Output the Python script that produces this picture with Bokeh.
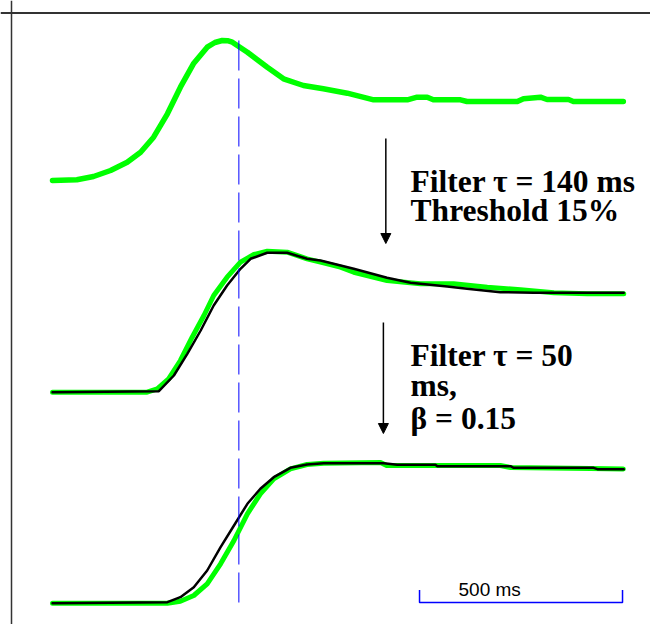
from bokeh.plotting import figure
from bokeh.models import Range1d, Span, Arrow, NormalHead
from bokeh.core.properties import value
from bokeh.embed import file_html
from bokeh.resources import INLINE

# ---------------- data (time in ms, amplitude in arbitrary units) ----------------
# Top trace: raw signal (green)
raw_t = [0, 60, 101, 143, 184, 217, 249, 283, 315, 347, 381, 400, 418, 431, 443, 480, 529, 569,
         618, 667, 726, 791, 874, 898, 923, 938, 1005, 1021, 1145, 1160, 1202, 1218,
         1271, 1283, 1406]
raw_v = [0, 0.7, 4, 10, 18.3, 28.3, 43.3, 66.7, 93.3, 116.7, 133.3, 138, 140, 139.8, 138.3, 128.3,
         113.3, 101.7, 95, 91.7, 87.3, 80.7, 80.7, 83.3, 83.3, 80.7, 80.7, 79, 79, 81.7,
         83.3, 81, 81, 79, 79]

# Middle: filter tau = 140 ms, threshold 15%
mid_green_t = [0, 233, 258, 286, 315, 344, 373, 397, 430, 463, 496, 529, 578, 627, 660,
               709, 742, 824, 906, 988, 1071, 1153, 1235, 1317, 1407]
mid_green_v = [0, 0, 3.4, 13.4, 31.7, 55, 76.7, 96.7, 115, 130, 137.7, 141, 140, 133.4,
               130, 125, 120, 111.7, 108.4, 108.4, 105, 102.4, 99.4, 98.4, 98.4]
mid_black_t = [0, 262, 299, 332, 365, 397, 430, 463, 488, 529, 578, 627, 660, 742, 824,
               882, 972, 1021, 1103, 1185, 1317, 1407]
mid_black_v = [0, 1, 16.7, 38.4, 61.7, 86.7, 106.7, 123.4, 133.4, 139.4, 139.4, 133.4,
               131.7, 123.4, 114.4, 109.4, 105.7, 103.4, 100, 99.4, 99.4, 99.4]

# Bottom: filter tau = 50 ms, beta = 0.15
bot_green_t = [0, 283, 315, 348, 381, 414, 447, 480, 512, 545, 586, 627, 668, 808, 823,
               1103, 1128, 1325, 1406]
bot_green_v = [0, 0, 2, 7.7, 19.4, 39.4, 62.7, 89.4, 109.4, 124.4, 134.4, 138.7, 140,
               140.7, 137.7, 137.7, 135.7, 134.7, 134.2]
bot_black_t = [0, 283, 315, 348, 381, 414, 447, 480, 512, 545, 586, 627, 668, 816, 849,
               943, 948, 1128, 1136, 1333, 1342, 1407]
bot_black_v = [0, 1, 6, 16, 32.7, 56, 77.7, 99.4, 114.4, 126, 135.4, 138.7, 140, 140,
               138.4, 138.4, 137, 137, 135.4, 135.4, 134, 134]

marker_time = [459]          # blue dashed reference time (ms)
scale_bar_ms = 500           # scale bar length (ms)
scale_bar_start = 904        # ms

annotation_1 = ["Filter \u03c4 = 140 ms", "Threshold 15%"]
annotation_2 = ["Filter \u03c4 = 50", "ms,", "\u03b2 = 0.15"]
scale_label = "500 ms"

# ---------------- layout constants ----------------
OFF_TOP, OFF_MID, OFF_BOT = 444, 232.3, 21.3

GREEN = "#00ff00"
BLUE = "#0000ff"

p = figure(width=650, height=624, output_backend="svg", toolbar_location=None,
           x_range=Range1d(-128.1, 1472.9), y_range=Range1d(0, 624),
           min_border=0, min_border_left=0, min_border_right=0,
           min_border_top=0, min_border_bottom=0,
           x_axis_location=None, y_axis_location=None)
p.grid.visible = False
p.outline_line_color = None
p.background_fill_color = "white"
p.border_fill_color = "white"

# frame (top and left edges visible)
p.add_layout(Span(location=611.5, dimension="width", line_color="#333333", line_width=2))
p.add_layout(Span(location=-101, dimension="height", line_color="#333333", line_width=1.5))

def shift(vals, off):
    return [v + off for v in vals]

# traces
p.line(raw_t, shift(raw_v, OFF_TOP), line_color=GREEN, line_width=5.5, line_cap="round", line_join="round")
p.line(mid_green_t, shift(mid_green_v, OFF_MID), line_color=GREEN, line_width=5, line_cap="round", line_join="round")
p.line(mid_black_t, shift(mid_black_v, OFF_MID), line_color="black", line_width=2.5, line_cap="round", line_join="round")
p.line(bot_green_t, shift(bot_green_v, OFF_BOT), line_color=GREEN, line_width=5, line_cap="round", line_join="round")
p.line(bot_black_t, shift(bot_black_v, OFF_BOT), line_color="black", line_width=2.5, line_cap="round", line_join="round")

# dashed reference line
p.segment(x0=marker_time, y0=[584], x1=marker_time, y1=[19],
          line_color=BLUE, line_width=1, line_dash="30 8")

# arrows
p.add_layout(Arrow(end=NormalHead(size=10, fill_color="black", line_color="black", line_width=1),
                   x_start=821, y_start=486, x_end=821, y_end=381,
                   line_color="black", line_width=1.5))
p.add_layout(Arrow(end=NormalHead(size=10, fill_color="black", line_color="black", line_width=1),
                   x_start=815, y_start=302, x_end=815, y_end=191,
                   line_color="black", line_width=1.5))

# annotations
serif = dict(text_font=value("Liberation Serif"), text_font_style="bold",
             text_font_size="31.5px", text_color="black",
             text_align="left", text_baseline="alphabetic")
p.text(x=[882] * 2, y=[443, 414], text=annotation_1, **serif)
p.text(x=[882] * 3, y=[269, 239, 206], text=annotation_2, **serif)

# scale bar
sb_end = scale_bar_start + scale_bar_ms
p.line([scale_bar_start, scale_bar_start, sb_end, sb_end], [34.5, 22, 22, 34.5],
       line_color=BLUE, line_width=1.5)
p.text(x=[1000], y=[35], text=[scale_label], text_font=value("Liberation Sans"),
       text_font_size="19px", text_color="black", text_align="left",
       text_baseline="alphabetic")

open("out.html", "w").write(file_html(p, INLINE))
